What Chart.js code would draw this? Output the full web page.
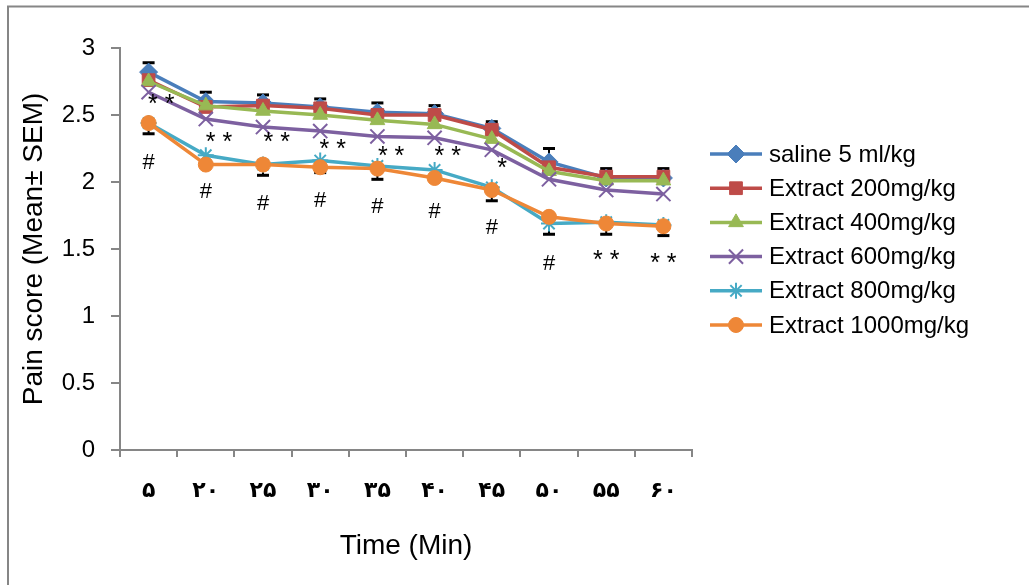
<!DOCTYPE html>
<html>
<head>
<meta charset="utf-8">
<script src="https://cdn.jsdelivr.net/npm/chart.js@4"></script>
<style>
  body { margin: 0; background: #fff; }
</style>
</head>
<body>
<canvas id="myChart" width="1029" height="585"></canvas>
<script>
const labels = ['۵', '۲۰', '۲۵', '۳۰', '۳۵', '۴۰', '۴۵', '۵۰', '۵۵', '۶۰'];

const saline = [2.82, 2.60, 2.59, 2.56, 2.52, 2.51, 2.40, 2.15, 2.03, 2.03];
const ext200 = [2.76, 2.56, 2.57, 2.55, 2.50, 2.50, 2.39, 2.11, 2.04, 2.04];
const ext400 = [2.75, 2.57, 2.53, 2.50, 2.46, 2.43, 2.32, 2.08, 2.01, 2.01];
const ext600 = [2.67, 2.47, 2.41, 2.38, 2.34, 2.33, 2.24, 2.02, 1.94, 1.91];
const ext800 = [2.44, 2.20, 2.13, 2.16, 2.12, 2.09, 1.96, 1.69, 1.70, 1.68];
const ext1000 = [2.44, 2.13, 2.13, 2.11, 2.10, 2.03, 1.94, 1.74, 1.69, 1.67];

// SEM shown in the picture: upward on saline, downward on 800 mg/kg
const salineSem = [0.07, 0.07, 0.06, 0.06, 0.07, 0.06, 0.05, 0.10, 0.07, 0.07];
const ext800Sem = [0.08, 0.08, 0.08, 0.09, 0.10, 0.07, 0.10, 0.08, 0.09, 0.08];

// significance marks: text, category position, value
const markText = ['* *', '#', '* *', '#', '* *', '#', '* *', '#', '* *', '#', '* *', '#', '*', '#', '#', '* *', '* *'];
const markCat = [0.22, 0, 1.23, 1, 2.24, 2, 3.22, 3, 4.24, 4, 5.23, 5, 6.18, 6, 7, 8, 9];
const markVal = [2.63, 2.16, 2.34, 1.94, 2.34, 1.85, 2.29, 1.87, 2.24, 1.83, 2.24, 1.79, 2.15, 1.67, 1.40, 1.46, 1.44];

const seriesNames = ['saline 5 ml/kg', 'Extract 200mg/kg', 'Extract 400mg/kg', 'Extract 600mg/kg', 'Extract 800mg/kg', 'Extract 1000mg/kg'];
const seriesData = [saline, ext200, ext400, ext600, ext800, ext1000];
const colors = ['#4A7EBB', '#BE4B48', '#98B954', '#7D60A0', '#46AAC5', '#EE8737'];
const markers = ['rectRot', 'rect', 'triangle', 'crossRot', 'star', 'circle'];
const markerSize = [9, 9, 8.5, 10, 8, 7.5];

const datasets = seriesData.map( ( data, i ) => ({
  label: seriesNames[i],
  data,
  borderColor: colors[i],
  backgroundColor: colors[i],
  borderWidth: 3.5,
  pointStyle: markers[i],
  pointRadius: markerSize[i],
  pointBorderWidth: ( markers[i] === 'crossRot' || markers[i] === 'star' ) ? 2 : 1,
  pointBackgroundColor: colors[i],
  pointBorderColor: colors[i],
  tension: 0,
  order: 5 - i
}));

const gray = '#868686';

const framePlugin = {
  id: 'frame',
  beforeDraw( chart ) {
    const ctx = chart.ctx;
    ctx.save();
    ctx.fillStyle = '#fff';
    ctx.fillRect( 0, 0, chart.width, chart.height );
    ctx.strokeStyle = gray;
    ctx.lineWidth = 2;
    ctx.strokeRect( 8, 6.5, 1100, 700 );
    ctx.restore();
  }
};

const errorBarPlugin = {
  id: 'errorBars',
  beforeDatasetsDraw( chart ) {
    const { ctx, scales: { x, y } } = chart;
    const draw = ( values, sems, dir ) => {
      values.forEach( ( v, i ) => {
        const px = x.getPixelForValue( i );
        const y0 = y.getPixelForValue( v );
        const y1 = y.getPixelForValue( v + dir * sems[i] );
        ctx.beginPath();
        ctx.moveTo( px, y0 );
        ctx.lineTo( px, y1 );
        ctx.lineWidth = 2;
        ctx.stroke();
        ctx.fillRect( px - 6, y1 - 1.5, 12, 3 );
      });
    };
    ctx.save();
    ctx.strokeStyle = '#000';
    ctx.fillStyle = '#000';
    draw( saline, salineSem, 1 );
    draw( ext800, ext800Sem, -1 );
    ctx.restore();
  }
};

const marksPlugin = {
  id: 'marks',
  afterDatasetsDraw( chart ) {
    const { ctx, scales: { x, y } } = chart;
    const step = x.getPixelForValue( 1 ) - x.getPixelForValue( 0 );
    ctx.save();
    ctx.fillStyle = '#000';
    ctx.textAlign = 'center';
    ctx.textBaseline = 'alphabetic';
    markText.forEach( ( t, i ) => {
      const px = x.getPixelForValue( 0 ) + markCat[i] * step;
      const py = y.getPixelForValue( markVal[i] );
      if ( t === '#' ) {
        ctx.font = '22px "Liberation Sans", Arial, sans-serif';
        ctx.fillText( t, px, py + 8 );
      } else {
        ctx.font = '25px "Liberation Sans", Arial, sans-serif';
        ctx.fillText( t, px, py + 14 );
      }
    });
    ctx.restore();
  }
};

const legendPlugin = {
  id: 'sideLegend',
  afterDraw( chart ) {
    const ctx = chart.ctx;
    ctx.save();
    seriesNames.forEach( ( name, i ) => {
      const yy = 154 + i * 34.2;
      ctx.strokeStyle = colors[i];
      ctx.lineWidth = 3.5;
      ctx.beginPath();
      ctx.moveTo( 710, yy );
      ctx.lineTo( 762, yy );
      ctx.stroke();
      ctx.fillStyle = colors[i];
      ctx.lineWidth = datasets[i].pointBorderWidth;
      Chart.helpers.drawPoint( ctx, { pointStyle: markers[i], radius: markerSize[i], rotation: 0, borderWidth: datasets[i].pointBorderWidth }, 736, yy );
      ctx.fillStyle = '#000';
      ctx.font = '24px "Liberation Sans", Arial, sans-serif';
      ctx.textAlign = 'left';
      ctx.textBaseline = 'middle';
      ctx.fillText( name, 769, yy + 1 );
    });
    ctx.restore();
  }
};

const options = {
  responsive: false,
  animation: false,
  devicePixelRatio: 1,
  layout: {
    padding: { left: 13, top: 48, right: 337, bottom: 18 }
  },
  plugins: {
    legend: { display: false },
    tooltip: { enabled: false }
  },
  scales: {
    x: {
      offset: true,
      afterFit: ( scale ) => { scale.height = 117; },
      grid: {
        offset: true,
        drawOnChartArea: false,
        tickLength: 7,
        color: gray,
        lineWidth: 2
      },
      border: { color: gray, width: 2 },
      ticks: {
        color: '#000',
        padding: 21,
        maxRotation: 0,
        font: { family: '"DejaVu Sans", sans-serif', size: 22, weight: 'bold' }
      },
      title: {
        display: true,
        text: 'Time (Min)',
        color: '#000',
        font: { family: '"Liberation Sans", Arial, sans-serif', size: 28 }
      }
    },
    y: {
      min: 0,
      max: 3,
      afterFit: ( scale ) => { scale.width = 107; },
      grid: {
        drawOnChartArea: false,
        tickLength: 9,
        color: gray,
        lineWidth: 2
      },
      border: { color: gray, width: 2 },
      ticks: {
        stepSize: 0.5,
        color: '#000',
        padding: 16,
        callback: ( value ) => String( value ),
        font: { family: '"Liberation Sans", Arial, sans-serif', size: 24 }
      },
      title: {
        display: true,
        text: 'Pain score (Mean± SEM)',
        color: '#000',
        font: { family: '"Liberation Sans", Arial, sans-serif', size: 28 }
      }
    }
  }
};

new Chart( document.getElementById('myChart'), {
  type: 'line',
  data: { labels, datasets },
  options,
  plugins: [ framePlugin, errorBarPlugin, marksPlugin, legendPlugin ]
});
</script>
</body>
</html>
